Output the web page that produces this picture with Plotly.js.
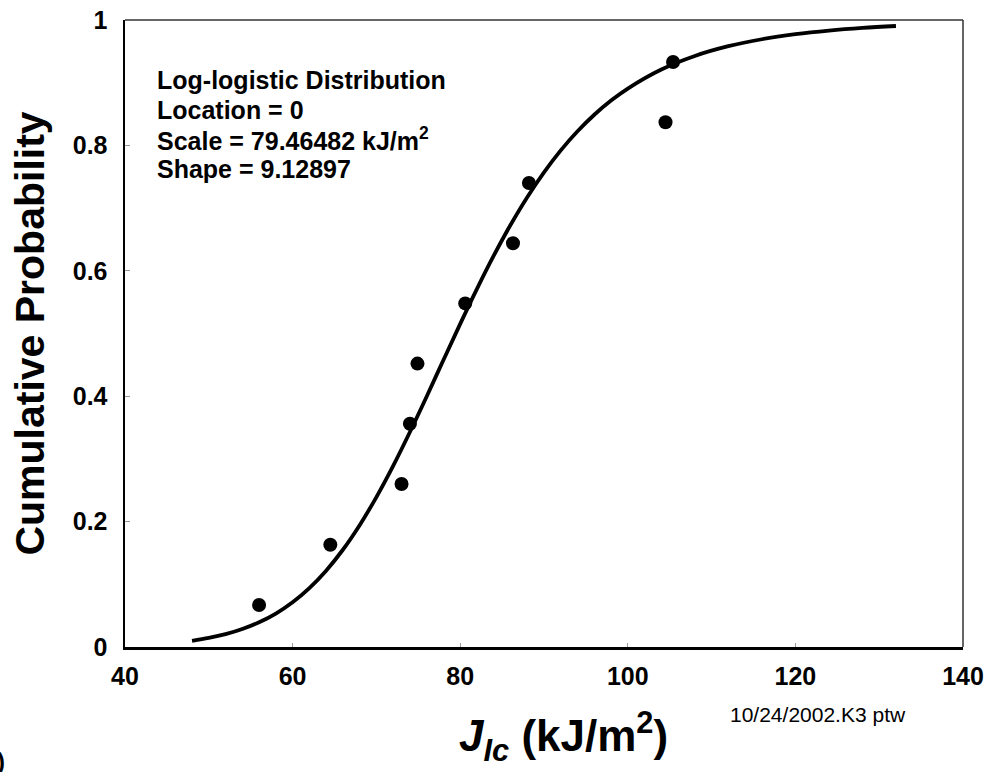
<!DOCTYPE html>
<html>
<head>
<meta charset="utf-8">
<script src="https://cdn.plot.ly/plotly-3.0.1.min.js"></script>
<style>html,body{margin:0;padding:0;background:#fff;}#chart{width:988px;height:772px;}</style>
</head>
<body>
<div id="chart"></div>
<script>
// Observed data points (J_Ic in kJ/m^2, cumulative probability)
const dataJ = [56.0, 64.5, 73.0, 74.0, 74.9, 80.6, 86.3, 88.2, 104.5, 105.4];
const dataP = [0.067, 0.163, 0.260, 0.356, 0.452, 0.548, 0.644, 0.740, 0.837, 0.933];

// Fitted log-logistic curve
const fitJ = [48, 50, 52, 54, 56, 58, 60, 62, 64, 66, 68, 70, 72, 74, 76, 78, 80, 82, 84, 86, 88, 90, 92, 94, 96, 98, 100, 104, 108, 112, 116, 120, 124, 128, 132];
const fitP = [0.0099, 0.0144, 0.0204, 0.0286, 0.0394, 0.0534, 0.0714, 0.0940, 0.1218, 0.1551, 0.1943, 0.2391, 0.2889, 0.3429, 0.3996, 0.4577, 0.5153, 0.5712, 0.6241, 0.6730, 0.7174, 0.7570, 0.7920, 0.8225, 0.8489, 0.8715, 0.8907, 0.9210, 0.9427, 0.9582, 0.9693, 0.9773, 0.9831, 0.9873, 0.9904];

const xTicks = [40, 60, 80, 100, 120, 140];
const yTicks = [0, 0.2, 0.4, 0.6, 0.8, 1];
const yTickText = ["0", "0.2", "0.4", "0.6", "0.8", "1"];

const infoLines = [
  "Log-logistic Distribution",
  "Location = 0",
  "Scale = 79.46482 kJ/m<sup>2</sup>",
  "Shape = 9.12897"
];

const FONT = "Arial, 'Liberation Sans', sans-serif";

const traces = [
  {
    x: fitJ, y: fitP, type: "scatter", mode: "lines",
    line: {color: "#000", width: 3.8, shape: "spline"},
    hoverinfo: "skip", showlegend: false
  },
  {
    x: dataJ, y: dataP, type: "scatter", mode: "markers",
    marker: {color: "#000", size: 14, symbol: "circle"},
    showlegend: false
  }
];

const infoY = [0.904, 0.856, 0.810, 0.763];
const annotations = infoLines.map((t, i) => ({
  text: t, xref: "paper", yref: "paper", x: 0.036, y: infoY[i],
  xanchor: "left", yanchor: "middle", showarrow: false,
  font: {family: FONT, size: 25, color: "#000", weight: "bold"}
}));

annotations.push({
  text: "<i>J<sub>Ic</sub></i> (kJ/m<sup>2</sup>)",
  xref: "paper", yref: "paper", x: 0.523, y: -0.143,
  xanchor: "center", yanchor: "middle", showarrow: false,
  font: {family: FONT, size: 44, color: "#000", weight: "bold"}
});
annotations.push({
  text: "10/24/2002.K3 ptw",
  xref: "paper", yref: "paper", x: 0.719, y: -0.108,
  xanchor: "left", yanchor: "middle", showarrow: false,
  font: {family: FONT, size: 21, color: "#000"}
});
annotations.push({
  text: ")",
  xref: "paper", yref: "paper", x: -0.155, y: -0.182,
  xanchor: "left", yanchor: "middle", showarrow: false,
  font: {family: FONT, size: 24, color: "#000", weight: "bold"}
});

const layout = {
  width: 988, height: 772,
  margin: {l: 125, r: 25, t: 20, b: 125},
  paper_bgcolor: "#fff", plot_bgcolor: "#fff",
  showlegend: false,
  font: {family: FONT, color: "#000"},
  xaxis: {
    range: [40, 140], tickvals: xTicks, showgrid: false, zeroline: false,
    showline: true, linecolor: "#000", linewidth: 2.5, mirror: false,
    ticks: "inside", ticklen: 4, tickwidth: 1, tickcolor: "#999",
    tickfont: {family: FONT, size: 25, color: "#000", weight: "bold"},
    ticklabelstandoff: 5
  },
  yaxis: {
    range: [0, 1], tickvals: yTicks, ticktext: yTickText, showgrid: false, zeroline: false,
    showline: true, linecolor: "#000", linewidth: 2.5, mirror: false,
    ticks: "inside", ticklen: 5, tickwidth: 1, tickcolor: "#999",
    tickfont: {family: FONT, size: 25, color: "#000", weight: "bold"},
    ticklabelstandoff: 10,
    title: {text: "Cumulative Probability", standoff: 16,
            font: {family: FONT, size: 41, color: "#000", weight: "bold"}}
  },
  shapes: [
    {type: "line", xref: "paper", yref: "paper", x0: 0, x1: 1, y0: 1, y1: 1,
     line: {color: "#333", width: 1.5}},
    {type: "line", xref: "paper", yref: "paper", x0: 1, x1: 1, y0: 0, y1: 1,
     line: {color: "#333", width: 1.5}}
  ],
  annotations: annotations
};

Plotly.newPlot("chart", traces, layout, {displayModeBar: false, staticPlot: true});
</script>
</body>
</html>
